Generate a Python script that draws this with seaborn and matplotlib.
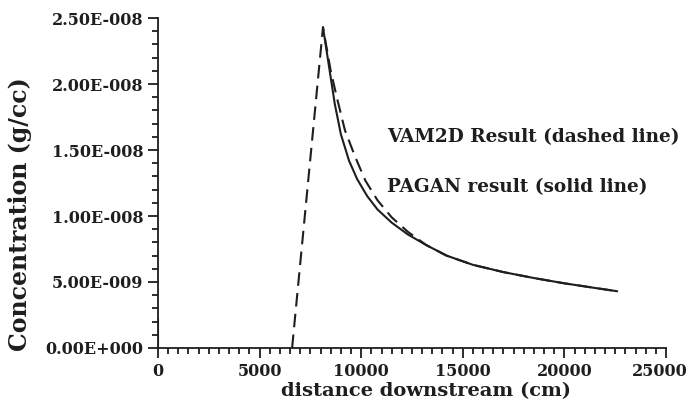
import matplotlib
matplotlib.use("Agg")
import matplotlib.pyplot as plt
import matplotlib.transforms as mtransforms
from matplotlib.ticker import MultipleLocator, FuncFormatter
import seaborn as sns
import pandas as pd

# VAM2D result (dashed)
vam_x = [6600, 8120, 8500, 8800, 9200, 9700, 10200, 10800, 11500, 12300, 13200,
         14200, 15500, 17000, 18500, 20000, 21500, 22600]
vam_y = [0.0, 2.43e-8, 2.10e-8, 1.90e-8, 1.65e-8, 1.45e-8, 1.27e-8, 1.12e-8, 9.9e-9,
         8.8e-9, 7.8e-9, 7.0e-9, 6.3e-9, 5.75e-9, 5.3e-9, 4.9e-9, 4.55e-9, 4.3e-9]

# PAGAN result (solid)
pagan_x = [8120, 8400, 8700, 9000, 9400, 9800, 10300, 10800, 11500, 12300, 13200,
           14200, 15500, 17000, 18500, 20000, 21500, 22600]
pagan_y = [2.43e-8, 2.15e-8, 1.85e-8, 1.62e-8, 1.42e-8, 1.28e-8, 1.15e-8, 1.05e-8,
           9.5e-9, 8.6e-9, 7.8e-9, 7.0e-9, 6.3e-9, 5.75e-9, 5.3e-9, 4.9e-9, 4.55e-9, 4.3e-9]

# little stub on the y axis
stub_x = [0, 0]
stub_y = [0.0, 2.2e-9]

labels = ["VAM2D Result (dashed line)", "PAGAN result (solid line)"]

sns.set_style("ticks")
plt.rcParams['font.family'] = ['DejaVu Serif']
plt.rcParams['font.weight'] = 'bold'
ink = '#1e1e1e'

fig = plt.figure(figsize=(6.92, 4.01), dpi=100)
ax = fig.add_axes([0.2283, 0.1322, 0.7341, 0.8228])

df_vam = pd.DataFrame({"x": vam_x, "y": vam_y})
df_pag = pd.DataFrame({"x": pagan_x, "y": pagan_y})
df_stub = pd.DataFrame({"x": stub_x, "y": stub_y})

sns.lineplot(data=df_vam, x="x", y="y", ax=ax, color=ink, lw=1.5,
             estimator=None, sort=False)
ax.lines[-1].set_dashes((6.5, 3.5))
sns.lineplot(data=df_pag, x="x", y="y", ax=ax, color=ink, lw=1.5,
             estimator=None, sort=False)
sns.lineplot(data=df_stub, x="x", y="y", ax=ax, color=ink, lw=1.5,
             estimator=None, sort=False)

ax.set_xlim(0, 25000)
ax.set_ylim(0, 2.5e-8)
ax.xaxis.set_major_locator(MultipleLocator(5000))
ax.xaxis.set_minor_locator(MultipleLocator(500))
ax.yaxis.set_major_locator(MultipleLocator(5e-9))
ax.yaxis.set_minor_locator(MultipleLocator(1e-9))


def fmt_e(v, pos):
    if v == 0:
        return "0.00E+000"
    s = "%.2E" % v
    mant, exp = s.split("E")
    return "%sE%s%03d" % (mant, exp[0], abs(int(exp)))


ax.yaxis.set_major_formatter(FuncFormatter(fmt_e))
ax.tick_params(which='major', length=7, width=1.3, colors=ink, labelsize=11.5, direction='out')
ax.tick_params(which='minor', length=4.5, width=1.3, colors=ink, direction='out')

sns.despine(ax=ax)
for s in ['left', 'bottom']:
    ax.spines[s].set_linewidth(1.3)
    ax.spines[s].set_color(ink)

ax.set_xlabel("")
ax.set_ylabel("")
fig.text(426 / 692, 1 - 391 / 401, "distance downstream (cm)", fontsize=14,
         fontweight='bold', color=ink, ha='center', va='center')
fig.text(20 / 692, 1 - 214 / 401, "Concentration (g/cc)", fontsize=17,
         fontweight='bold', color=ink, ha='center', va='center', rotation=90)

fig.text(387 / 692, 1 - 137 / 401, labels[0], fontsize=13.3, fontweight='bold', color=ink, va='center')
fig.text(387 / 692, 1 - 187 / 401, labels[1], fontsize=13.3, fontweight='bold', color=ink, va='center')

fig.canvas.draw()
for lab in ax.get_xticklabels() + ax.get_yticklabels():
    lab.set_fontweight('bold')

# nudge the 25000 label left so it stays inside the picture
locs = list(ax.xaxis.get_majorticklocs())
ticks = ax.xaxis.get_major_ticks()
for loc, tk in zip(locs, ticks):
    if abs(loc - 25000) < 1:
        tk.label1.set_transform(tk.label1.get_transform() +
                                mtransforms.ScaledTranslation(-6 / 100, 0, fig.dpi_scale_trans))

fig.savefig("out.png", dpi=100)
